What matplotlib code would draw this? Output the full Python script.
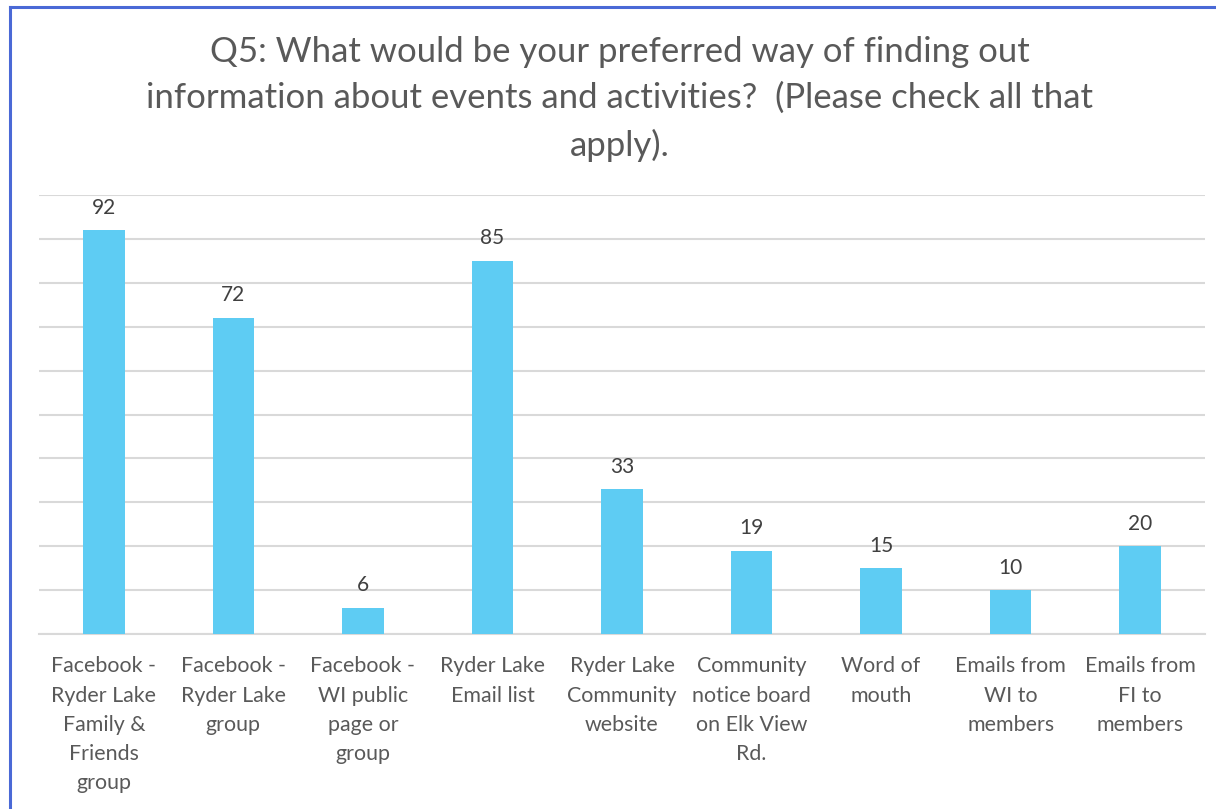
import matplotlib
matplotlib.use("Agg")
import matplotlib.pyplot as plt
from matplotlib.lines import Line2D

categories = [
    "Facebook -\nRyder Lake\nFamily &\nFriends\ngroup",
    "Facebook -\nRyder Lake\ngroup",
    "Facebook -\nWI public\npage or\ngroup",
    "Ryder Lake\nEmail list",
    "Ryder Lake\nCommunity\nwebsite",
    "Community\nnotice board\non Elk View\nRd.",
    "Word of\nmouth",
    "Emails from\nWI to\nmembers",
    "Emails from\nFI to\nmembers",
]
values = [92, 72, 6, 85, 33, 19, 15, 10, 20]
title = ("Q5: What would be your preferred way of finding out\n"
         "information about events and activities?  (Please check all that\n"
         "apply).")

plt.rcParams['font.family'] = ['Lato', 'DejaVu Sans']

W, H = 1216, 809
fig = plt.figure(figsize=(W / 100, H / 100), dpi=100)
ax = fig.add_axes([39 / W, 1 - 634 / H, (1205 - 39) / W, (634 - 195) / H])

x = list(range(len(values)))
bars = ax.bar(x, values, width=0.32, color='#5ECCF3', zorder=3)
ax.set_xlim(-0.5, len(values) - 0.5)
ax.set_ylim(0, 100)
ax.set_yticks(range(0, 101, 10))
ax.yaxis.grid(True, color='#D9D9D9', linewidth=1.5, zorder=0)
ax.tick_params(axis='y', left=False, labelleft=False)
ax.tick_params(axis='x', length=0, pad=16)
ax.set_xticks(x)
ax.set_xticklabels(categories, fontsize=15.4, color='#595959', linespacing=1.58)
for s in ['top', 'right', 'left']:
    ax.spines[s].set_visible(False)
ax.spines['bottom'].set_color('#D9D9D9')
ax.spines['bottom'].set_linewidth(1.5)

for xi, v in zip(x, values):
    ax.annotate(str(v), (xi, v), xytext=(0, 9), textcoords='offset points',
                ha='center', va='bottom', fontsize=15, color='#404040')

fig.text(620 / W, 1 - 99 / H, title, ha='center', va='center', fontsize=25,
         color='#595959', linespacing=1.52)

# blue frame (top and left edges visible)
fig.add_artist(Line2D([10 / W, 1.0], [1 - 6.5 / H, 1 - 6.5 / H], color='#4A69D6',
                      linewidth=2.2, transform=fig.transFigure))
fig.add_artist(Line2D([10 / W, 10 / W], [0, 1 - 6.5 / H], color='#4A69D6',
                      linewidth=2.2, transform=fig.transFigure))

fig.savefig('out.png', dpi=100)
